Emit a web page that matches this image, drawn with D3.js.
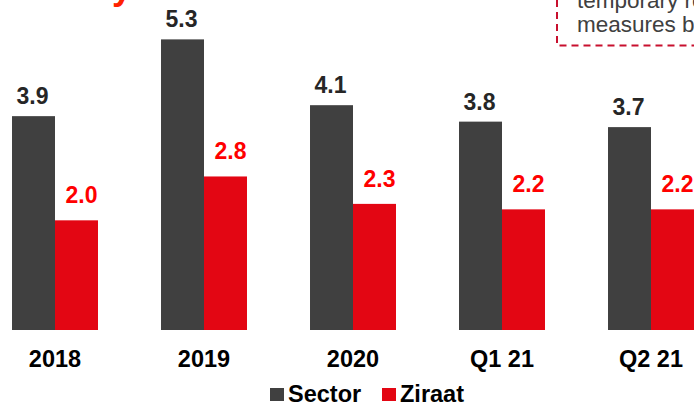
<!DOCTYPE html>
<html>
<head>
<meta charset="utf-8">
<script src="https://cdn.jsdelivr.net/npm/d3@7"></script>
<style>
  body { margin: 0; background: #fff; }
  svg { display: block; font-family: "Liberation Sans", Arial, sans-serif; }
</style>
</head>
<body>
<script>
// data
const periods = ["2018", "2019", "2020", "Q1 21", "Q2 21"];
const seriesNames = ["Sector", "Ziraat"];
const sectorValues = [3.9, 5.3, 4.1, 3.8, 3.7];
const ziraatValues = [2.0, 2.8, 2.3, 2.2, 2.2];

function drawChart() {
  const w = 694;
  const h = 404;

  const colors = { Sector: "#404040", Ziraat: "#e30613" };
  const labelColors = { Sector: "#262626", Ziraat: "#ff0000" };

  const rows = periods.map((p, i) => ({
    period: p,
    values: [
      { key: "Sector", value: sectorValues[i] },
      { key: "Ziraat", value: ziraatValues[i] }
    ]
  }));

  const svg = d3.select("body")
    .append("svg")
    .attr("width", w)
    .attr("height", h);

  // scales
  const x0 = d3.scaleBand()
    .domain(periods)
    .range([-19.5, 725.5])
    .paddingInner(0.423)
    .paddingOuter(0.2115);

  const x1 = d3.scaleBand()
    .domain(seriesNames)
    .range([0, x0.bandwidth()]);

  const y = d3.scaleLinear()
    .domain([0, 6])
    .range([330, 1]);

  // leftover bits of the slide around the chart
  svg.append("text")
    .attr("x", 112)
    .attr("y", -1)
    .attr("font-size", 36)
    .attr("font-weight", "bold")
    .attr("fill", "#ff2200")
    .text("y");

  svg.append("rect")
    .attr("x", 557)
    .attr("y", -20)
    .attr("width", 200)
    .attr("height", 65.5)
    .attr("fill", "none")
    .attr("stroke", "#c8102e")
    .attr("stroke-width", 2)
    .attr("stroke-dasharray", "7,5");

  const note = svg.append("text")
    .attr("x", 577)
    .attr("font-size", 22.5)
    .attr("fill", "#404040");
  note.append("tspan").attr("x", 577).attr("y", 8).text("temporary regulatory");
  note.append("tspan").attr("x", 577).attr("y", 32).text("measures by BRSA");

  // bars
  const group = svg.selectAll(".group")
    .data(rows).enter()
    .append("g")
    .classed("group", true)
    .attr("transform", d => `translate(${x0(d.period)},0)`);

  group.selectAll("rect")
    .data(d => d.values).enter()
    .append("rect")
    .attr("x", d => x1(d.key))
    .attr("y", d => y(d.value))
    .attr("width", x1.bandwidth())
    .attr("height", d => y(0) - y(d.value))
    .attr("fill", d => colors[d.key]);

  // value labels
  group.selectAll(".value")
    .data(d => d.values).enter()
    .append("text")
    .classed("value", true)
    .attr("x", d => x1(d.key) + x1.bandwidth() / 2 + (d.key === "Ziraat" ? 5 : -1))
    .attr("y", d => y(d.value) - (d.key === "Ziraat" ? 17 : 12))
    .attr("text-anchor", "middle")
    .attr("font-size", 23)
    .attr("font-weight", "bold")
    .attr("fill", d => labelColors[d.key])
    .text(d => d3.format(".1f")(d.value));

  // category labels
  svg.selectAll(".cat")
    .data(periods).enter()
    .append("text")
    .classed("cat", true)
    .attr("x", d => x0(d) + x0.bandwidth() / 2)
    .attr("y", 367)
    .attr("text-anchor", "middle")
    .attr("font-size", 23.5)
    .attr("font-weight", "bold")
    .attr("fill", "#000")
    .text(d => d);

  // legend
  const legendX = [270, 382];
  const legend = svg.selectAll(".legend")
    .data(seriesNames).enter()
    .append("g")
    .classed("legend", true)
    .attr("transform", (d, i) => `translate(${legendX[i]},0)`);

  legend.append("rect")
    .attr("x", 0)
    .attr("y", 388)
    .attr("width", 14)
    .attr("height", 13)
    .attr("fill", d => colors[d]);

  legend.append("text")
    .attr("x", 18)
    .attr("y", 402)
    .attr("font-size", 23.5)
    .attr("font-weight", "bold")
    .attr("fill", "#000")
    .text(d => d);
}

drawChart();
</script>
</body>
</html>
